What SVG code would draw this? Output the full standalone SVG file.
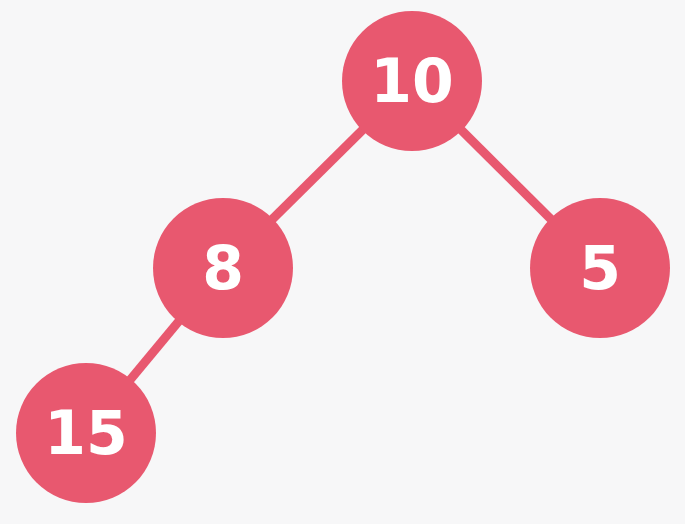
<svg xmlns="http://www.w3.org/2000/svg" width="685" height="524" viewBox="0 0 685 524">
<style>
.edge{stroke:#E8586F;stroke-width:9;stroke-linecap:butt}
.node circle{fill:#E8586F}
.node text{fill:#FFFFFF;font-family:"DejaVu Sans",sans-serif;font-weight:bold;font-size:60px;text-anchor:middle;dominant-baseline:central}
</style>
<rect width="685" height="524" fill="#F7F7F8"/>
<g id="connectors">
<line class="edge" x1="412" y1="81" x2="223" y2="268"/>
<line class="edge" x1="412" y1="81" x2="600" y2="268"/>
<line class="edge" x1="223" y1="268" x2="86" y2="433"/>
</g>
<g id="node-10" class="node"><circle cx="412" cy="81" r="70"/><text x="412" y="81">10</text></g>
<g id="node-8" class="node"><circle cx="223" cy="268" r="70"/><text x="223" y="268">8</text></g>
<g id="node-5" class="node"><circle cx="600" cy="268" r="70"/><text x="600" y="268">5</text></g>
<g id="node-15" class="node"><circle cx="86" cy="433" r="70"/><text x="86" y="433">15</text></g>
</svg>
